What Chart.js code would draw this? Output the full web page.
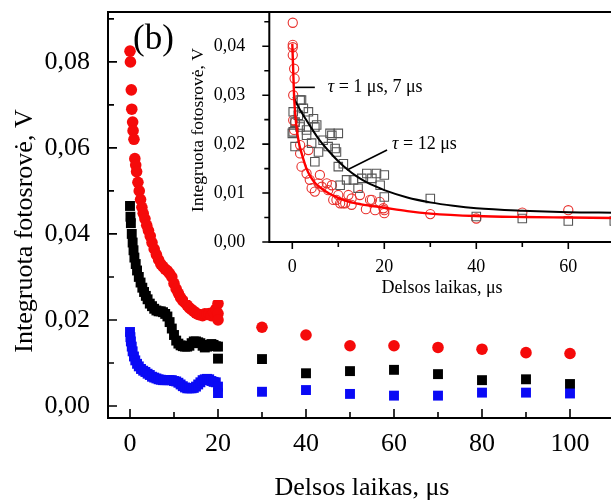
<!DOCTYPE html>
<html>
<head>
<meta charset="utf-8">
<script src="https://cdn.jsdelivr.net/npm/chart.js@4"></script>
<style>
  html, body { margin: 0; padding: 0; background: #fff; overflow: hidden; }
  #wrap { position: relative; width: 611px; height: 502px; overflow: hidden; }
  #main { position: absolute; left: 0; top: 0; }
  #inset { position: absolute; left: 188px; top: 0; }
</style>
</head>
<body>
<div id="wrap">
  <canvas id="main" width="620" height="502"></canvas>
  <canvas id="inset" width="432" height="300"></canvas>
</div>
<script>
// ---- main panel: integrated photocurrent vs delay, three samples ----
const redMain = [
  [0,0.0825],[0.1,0.0800],[0.3,0.0735],[0.4,0.0690],[0.6,0.0660],[0.7,0.0640],[0.9,0.0620],
  [1.1,0.0575],[1.3,0.0560],[1.5,0.0545],[1.8,0.0520],[2.1,0.0500],[2.4,0.0480],[2.7,0.0462],
  [3.0,0.0448],[3.4,0.0435],[3.8,0.0420],[4.2,0.0408],[4.6,0.0395],[5.0,0.0380],[5.5,0.0365],
  [6.0,0.0352],[6.5,0.0340],[7.0,0.0330],[7.5,0.0324],[8.0,0.0318],[8.5,0.0314],[9.0,0.0308],
  [9.5,0.0300],[10.0,0.0285],[10.5,0.0272],[11.0,0.0262],[11.5,0.0252],[12.0,0.0245],[12.5,0.0240],
  [13.0,0.0234],[13.5,0.0228],[14.0,0.0224],[14.5,0.0220],[15.0,0.0216],[15.5,0.0213],[16.0,0.0212],
  [16.5,0.0210],[17.0,0.0214],[17.5,0.0213],[18.0,0.0215],[18.5,0.0210],[19.0,0.0218],[19.5,0.0225],
  [20.0,0.0238],[20.0,0.0215],[20.0,0.0200],
  [30,0.0183],[40,0.0165],[50,0.0140],[60,0.0140],[70,0.0136],[80,0.0132],[90,0.0124],[100,0.0122]
];
const blackMain = [
  [0,0.0465],[0.1,0.0440],[0.2,0.0425],[0.4,0.0400],[0.6,0.0380],[0.8,0.0362],[1.0,0.0345],
  [1.3,0.0330],[1.6,0.0315],[2.0,0.0300],[2.4,0.0287],[2.8,0.0275],[3.2,0.0265],[3.6,0.0256],
  [4.0,0.0248],[4.5,0.0238],[5.0,0.0232],[5.5,0.0226],[6.0,0.0222],[6.5,0.0220],[7.0,0.0220],
  [7.5,0.0218],[8.0,0.0214],[8.5,0.0208],[9.0,0.0195],[9.5,0.0180],[10.0,0.0165],[10.5,0.0152],
  [11.0,0.0145],[11.5,0.0141],[12.0,0.0139],[12.5,0.0138],[13.0,0.0138],[13.5,0.0140],[14.0,0.0146],
  [14.5,0.0150],[15.0,0.0150],[15.5,0.0148],[16.0,0.0146],[16.5,0.0140],[17.0,0.0136],[17.5,0.0138],
  [18.0,0.0142],[18.5,0.0144],[19.0,0.0142],[19.5,0.0139],[20.0,0.0138],[20.0,0.0110],
  [30,0.0109],[40,0.0076],[50,0.0081],[60,0.0084],[70,0.0074],[80,0.0060],[90,0.0062],[100,0.0051]
];
const blueMain = [
  [0,0.0172],[0.1,0.0160],[0.2,0.0150],[0.4,0.0138],[0.6,0.0127],[0.9,0.0115],[1.2,0.0106],
  [1.6,0.0098],[2.0,0.0092],[2.5,0.0086],[3.0,0.0082],[3.5,0.0079],[4.0,0.0075],[4.5,0.0072],
  [5.0,0.0068],[5.5,0.0066],[6.0,0.0064],[6.5,0.0062],[7.0,0.0061],[7.5,0.0060],[8.0,0.0060],
  [8.5,0.0060],[9.0,0.0060],[9.5,0.0060],[10.0,0.0058],[10.5,0.0057],[11.0,0.0054],[11.5,0.0050],
  [12.0,0.0046],[12.5,0.0043],[13.0,0.0041],[13.5,0.0041],[14.0,0.0041],[14.5,0.0042],[15.0,0.0045],
  [15.5,0.0050],[16.0,0.0055],[16.5,0.0060],[17.0,0.0062],[17.5,0.0063],[18.0,0.0062],[18.5,0.0058],
  [19.0,0.0056],[19.5,0.0055],[20.0,0.0045],[20.0,0.0030],
  [30,0.0033],[40,0.0037],[50,0.0028],[60,0.0024],[70,0.0024],[80,0.0031],[90,0.0031],[100,0.0029]
];
const mainXTicks = [0, 20, 40, 60, 80, 100];
const mainXMinor = [10, 30, 50, 70, 90];
const mainYTicks = [0, 0.02, 0.04, 0.06, 0.08];
const mainYMinor = [0.01, 0.03, 0.05, 0.07, 0.09];

// ---- inset: two samples with exponential fits ----
const redInset = [
  [0.1,0.0448],[0.1,0.0403],[0.1,0.0398],[0.1,0.0382],[0.4,0.0354],[0.5,0.0334],[0.2,0.0300],
  [0.2,0.0249],[0.4,0.0229],[0.6,0.0245],[1.7,0.0198],[1.7,0.0181],[3.5,0.0188],[2.0,0.0154],
  [3.1,0.0140],[3.8,0.0127],[4.2,0.0110],[4.9,0.0103],[6.0,0.0137],[5.7,0.0120],[6.4,0.0113],
  [7.5,0.0120],[7.8,0.0106],[8.6,0.0116],[8.9,0.0086],[10.0,0.0096],[10.4,0.0079],[12.2,0.0096],
  [11.5,0.0079],[12.9,0.0089],[14.7,0.0096],[16.0,0.0067],[16.9,0.0086],[18.0,0.0065],[19.0,0.0082],
  [19.8,0.0069],[20.0,0.0059],[9.6,0.0086],[11.0,0.0079],[12.9,0.0076],[17.3,0.0086],[20.0,0.0065],
  [30,0.0057],[40,0.0048],[50,0.0060],[60,0.0065]
];
const grayInset = [
  [1.7,0.0290],[2.0,0.0290],[2.4,0.0273],[0.2,0.0266],[1.3,0.0259],[3.5,0.0266],[4.6,0.0252],
  [5.3,0.0239],[0.6,0.0245],[1.7,0.0239],[0.2,0.0225],[3.1,0.0229],[8.2,0.0222],[0.0,0.0222],
  [0.6,0.0195],[1.7,0.0235],[3.1,0.0218],[4.9,0.0235],[4.2,0.0202],[5.7,0.0184],[4.9,0.0164],
  [6.7,0.0208],[7.8,0.0195],[8.6,0.0218],[9.6,0.0184],[9.3,0.0191],[10.0,0.0222],[10.0,0.0154],
  [11.1,0.0160],[10.4,0.0116],[11.8,0.0127],[13.3,0.0127],[15.1,0.0130],[16.2,0.0140],[17.3,0.0130],
  [18.3,0.0140],[19.1,0.0116],[20.0,0.0137],[20.0,0.0092],[14.3,0.0110],
  [30,0.0089],[40,0.0052],[50,0.0048],[60,0.0043],[70,0.0043]
];
const redFit = [
  [0,0.0405],[0.2,0.0350],[0.4,0.0295],[0.7,0.0255],[1,0.0228],[1.5,0.0200],[2,0.0182],[3,0.0152],
  [4,0.0133],[5,0.0120],[6,0.0112],[8,0.0099],[10,0.0090],[12,0.0083],[15,0.0077],[20,0.0070],
  [25,0.0063],[30,0.0058],[40,0.0053],[50,0.0051],[60,0.0050],[70,0.0049]
];
const blackFit = [
  [0.2,0.0296],[1,0.0282],[2,0.0265],[4,0.0235],[6,0.0207],[8,0.0185],[10,0.0165],[12,0.0148],
  [14,0.0134],[16,0.0123],[18,0.0114],[20,0.0106],[25,0.0091],[30,0.0081],[35,0.0074],[40,0.0069],
  [50,0.0064],[60,0.0061],[70,0.0060]
];
const insetXTicks = [0, 20, 40, 60];
const insetXMinor = [10, 30, 50, 70];
const insetYTicks = [0, 0.01, 0.02, 0.03, 0.04];
const insetYMinor = [0.005, 0.015, 0.025, 0.035, 0.045];

const SERIF = '"Liberation Serif", "Times New Roman", serif';
Chart.defaults.font.family = SERIF;
Chart.defaults.color = '#000';

const pts = arr => arr.map(([x, y]) => ({ x, y }));
const comma = (v, d) => v.toFixed(d).replace('.', ',');

// white backdrop for the inset, kept below the outer frame's top line
const backdropPlugin = {
  id: 'backdrop',
  beforeDraw(chart, args, o) {
    const { ctx, width, height } = chart;
    ctx.save();
    ctx.fillStyle = '#fff';
    ctx.fillRect(0, o.top, width, height - o.top);
    ctx.restore();
  }
};

// frame, tick marks and free text drawn on top of the datasets
const framePlugin = {
  id: 'frame',
  afterDatasetsDraw(chart, args, o) {
    const { ctx, chartArea: a, scales: { x, y } } = chart;
    const s = o.inward ? -1 : 1;
    ctx.save();
    ctx.strokeStyle = '#000';
    ctx.lineWidth = 1.6;
    ctx.beginPath();
    const tick = (vals, len) => {
      vals.forEach(v => {
        const px = x.getPixelForValue(v);
        ctx.moveTo(px, a.bottom); ctx.lineTo(px, a.bottom + s * len);
      });
    };
    const ytick = (vals, len) => {
      vals.forEach(v => {
        const py = y.getPixelForValue(v);
        ctx.moveTo(a.left, py); ctx.lineTo(a.left - s * len, py);
      });
    };
    tick(o.xMajor, o.major); tick(o.xMinor, o.minor);
    ytick(o.yMajor, o.major); ytick(o.yMinor, o.minor);
    ctx.stroke();
    ctx.lineWidth = 2;
    ctx.strokeRect(a.left, a.top, a.right - a.left, a.bottom - a.top);

    ctx.fillStyle = '#000';
    ctx.textBaseline = 'middle';
    (o.texts || []).forEach(t => {
      ctx.save();
      ctx.translate(t.x, t.y);
      if (t.rot) ctx.rotate(t.rot);
      ctx.font = t.font;
      ctx.textAlign = t.align || 'center';
      ctx.fillText(t.text, 0, 0);
      ctx.restore();
    });

    // fit labels with leader lines, placed in data units
    (o.notes || []).forEach(n => {
      ctx.lineWidth = 1.6;
      ctx.beginPath();
      ctx.moveTo(x.getPixelForValue(n.from[0]), y.getPixelForValue(n.from[1]));
      ctx.lineTo(x.getPixelForValue(n.to[0]), y.getPixelForValue(n.to[1]));
      ctx.stroke();
      let tx = x.getPixelForValue(n.at[0]);
      const ty = y.getPixelForValue(n.at[1]);
      ctx.textAlign = 'left';
      ctx.font = 'italic 18px ' + SERIF;
      ctx.fillText('\u03C4', tx, ty);
      tx += ctx.measureText('\u03C4').width;
      ctx.font = '18px ' + SERIF;
      ctx.fillText(n.text, tx, ty);
    });
    ctx.restore();
  }
};

function linScale(min, max, ticks, font, padding, size, fmt, isX) {
  return {
    type: 'linear',
    min, max,
    grid: { display: false },
    border: { display: false },
    afterBuildTicks: sc => { sc.ticks = ticks.map(v => ({ value: v })); },
    afterFit: sc => {
      if (isX) sc.height = size; else sc.width = size;
      sc.paddingTop = sc.paddingBottom = sc.paddingLeft = sc.paddingRight = 0;
    },
    ticks: { font, padding, maxRotation: 0, autoSkip: false, callback: fmt }
  };
}

new Chart(document.getElementById('main'), {
  type: 'scatter',
  data: {
    datasets: [
      { data: pts(blueMain), pointStyle: 'rect', pointRadius: 7, backgroundColor: '#0a0af5', borderWidth: 0 },
      { data: pts(blackMain), pointStyle: 'rect', pointRadius: 7, backgroundColor: '#000', borderWidth: 0 },
      { data: pts(redMain), pointStyle: 'circle', pointRadius: 5.8, backgroundColor: '#f50a0a', borderWidth: 0 }
    ]
  },
  options: {
    responsive: false,
    animation: false,
    events: [],
    layout: { autoPadding: false, padding: { left: 0, top: 12, right: 6, bottom: 34 } },
    plugins: {
      legend: { display: false },
      tooltip: { enabled: false },
      frame: {
        inward: true, major: 9, minor: 6,
        xMajor: mainXTicks, xMinor: mainXMinor, yMajor: mainYTicks, yMinor: mainYMinor,
        texts: [
          { text: 'Integruota fotosrovė, V', x: 25, y: 231, rot: -Math.PI / 2, font: '26px ' + SERIF },
          { text: 'Delsos laikas, μs', x: 362, y: 488, font: '26px ' + SERIF },
          { text: '(b)', x: 133, y: 40, align: 'left', font: '35px ' + SERIF }
        ]
      }
    },
    scales: {
      x: linScale(-5, 110, mainXTicks, { size: 26 }, 3, 50, v => String(v), true),
      y: linScale(-0.0028, 0.0916, mainYTicks, { size: 26 }, 10, 108, v => comma(v, 2), false)
    }
  },
  plugins: [framePlugin]
});

new Chart(document.getElementById('inset'), {
  type: 'scatter',
  data: {
    datasets: [
      { data: pts(redFit), showLine: true, pointRadius: 0, borderColor: '#ff0000', borderWidth: 2.4,
        cubicInterpolationMode: 'monotone', order: 1 },
      { data: pts(blackFit), showLine: true, pointRadius: 0, borderColor: '#000', borderWidth: 2,
        cubicInterpolationMode: 'monotone', order: 2 },
      { data: pts(grayInset), pointStyle: 'rect', pointRadius: 6, backgroundColor: 'rgba(0,0,0,0)',
        borderColor: '#555', borderWidth: 1.1, order: 3 },
      { data: pts(redInset), pointStyle: 'circle', pointRadius: 4.6, backgroundColor: 'rgba(0,0,0,0)',
        borderColor: '#e8302c', borderWidth: 1.1, order: 4 }
    ]
  },
  options: {
    responsive: false,
    animation: false,
    events: [],
    layout: { autoPadding: false, padding: { left: 0, top: 12, right: 5.7, bottom: 8 } },
    plugins: {
      legend: { display: false },
      tooltip: { enabled: false },
      backdrop: { top: 13 },
      frame: {
        inward: false, major: 7, minor: 5,
        xMajor: insetXTicks, xMinor: insetXMinor, yMajor: insetYTicks, yMinor: insetYMinor,
        texts: [
          { text: 'Integruota fotosrovė, V', x: 10, y: 130, rot: -Math.PI / 2, font: '17.5px ' + SERIF },
          { text: 'Delsos laikas, μs', x: 254, y: 288, font: '18px ' + SERIF }
        ],
        notes: [
          { from: [0.6, 0.0316], to: [4.9, 0.0316], at: [7.7, 0.0316], text: ' = 1 μs, 7 μs' },
          { from: [11.9, 0.0147], to: [20.6, 0.0188], at: [21.7, 0.0200], text: ' = 12 μs' }
        ]
      }
    },
    scales: {
      x: linScale(-5, 70, insetXTicks, { size: 18 }, 6, 50, v => String(v), true),
      y: linScale(0, 0.047, insetYTicks, { size: 18 }, 16, 81.3, v => comma(v, 2), false)
    }
  },
  plugins: [backdropPlugin, framePlugin]
});
</script>
</body>
</html>
